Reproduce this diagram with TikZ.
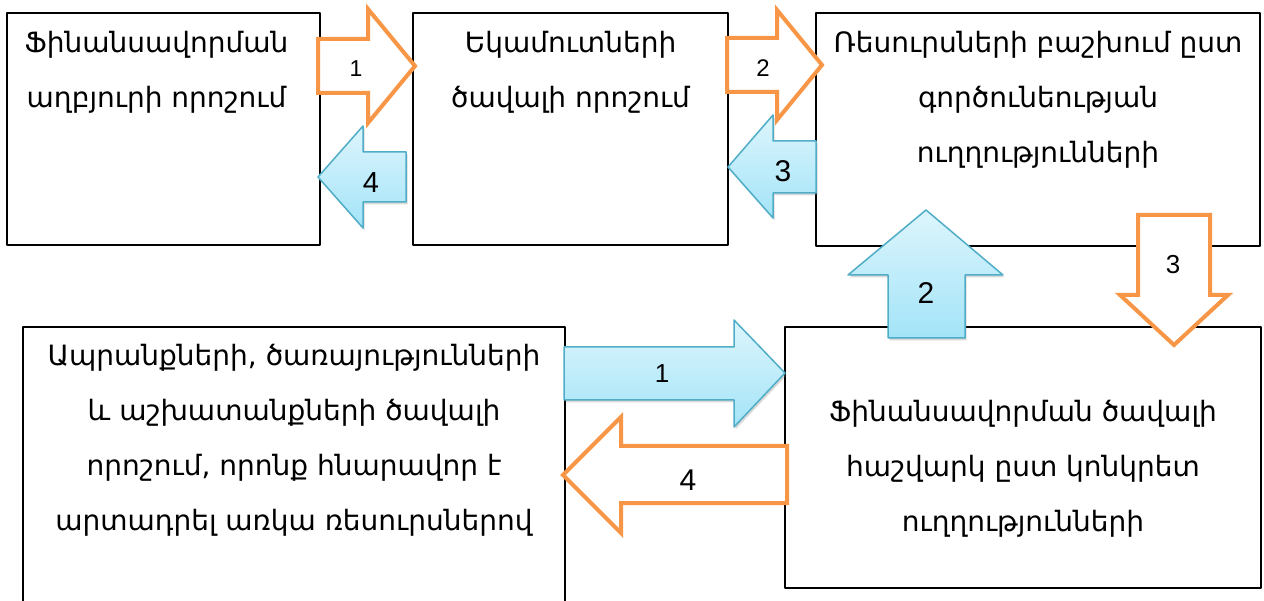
\documentclass[tikz,border=0pt]{standalone}
\usepackage{fontspec}
\setmainfont{Liberation Sans}
\newfontfamily\armfont{DejaVu Sans}
\usetikzlibrary{positioning,shadows}

\definecolor{orline}{HTML}{F79646}
\definecolor{bluline}{HTML}{4FADC7}
\definecolor{blutop}{HTML}{DDF5FC}
\definecolor{blubot}{HTML}{A3E4F8}

\tikzset{
  box/.style={draw=black,line width=1.6pt,fill=white,inner sep=0pt},
  armtxt/.style={align=center,inner sep=0pt,font=\armfont\fontsize{28}{55}\selectfont},
  orarrow/.style={draw=orline,line width=4pt,fill=white,line join=miter},
  bluarrow/.style={draw=bluline,line width=1.5pt,top color=blutop,bottom color=blubot,
    drop shadow={shadow xshift=1.5pt,shadow yshift=-2.5pt,opacity=.3}},
  numlbl/.style={inner sep=0pt}
}

\begin{document}
\begin{tikzpicture}[line cap=round,line join=round,x=1pt,y=-1pt]
  \useasboundingbox (0,0) rectangle (1264,601);
  \clip (0,0) rectangle (1264,601);

  % boxes
  \node[box,minimum width=313pt,minimum height=232pt] (srcbox) at (163.5,129) {};
  \node[box,minimum width=315pt,minimum height=232pt] (incbox) at (570.5,129) {};
  \node[box,minimum width=444pt,minimum height=233pt] (resbox) at (1038,129.5) {};
  \node[box,minimum width=542pt,minimum height=313pt] (prodbox) at (294,483.5) {};
  \node[box,minimum width=476pt,minimum height=261pt] (calcbox) at (1023,457.5) {};

  \node[armtxt,below=19pt of srcbox.north,xshift=-7pt] (srctxt) {Ֆինանսավորման\\աղբյուրի որոշում};
  \node[armtxt,below=19pt of incbox.north] (inctxt) {Եկամուտների\\ծավալի որոշում};
  \node[armtxt,below=19pt of resbox.north] (restxt) {Ռեսուրսների բաշխում ըստ\\գործունեության\\ուղղությունների};
  \node[armtxt,below=18pt of prodbox.north] (prodtxt) {Ապրանքների, ծառայությունների\\և աշխատանքների ծավալի\\որոշում, որոնք հնարավոր է\\արտադրել առկա ռեսուրսներով};
  \node[armtxt,below=74pt of calcbox.north] (calctxt) {Ֆինանսավորման ծավալի\\հաշվարկ ըստ կոնկրետ\\ուղղությունների};

  % orange arrows
  \draw[orarrow] (318,39) -- (368,39) -- (368,9) -- (415,66) -- (368,123) -- (368,93) -- (318,93) -- cycle;
  \draw[orarrow] (727,38) -- (777,38) -- (777,10) -- (822,65) -- (777,120) -- (777,92) -- (727,92) -- cycle;
  \draw[orarrow] (1138,215) -- (1210,215) -- (1210,295) -- (1228,295) -- (1174,345) -- (1120,295) -- (1138,295) -- cycle;
  \draw[orarrow] (787,446) -- (621,446) -- (621,417) -- (563,475) -- (621,533) -- (621,503) -- (787,503) -- cycle;

  % blue arrows
  \draw[bluarrow] (406,152) -- (363,152) -- (363,126) -- (318,177) -- (363,228) -- (363,202) -- (406,202) -- cycle;
  \draw[bluarrow] (816,141) -- (773,141) -- (773,115) -- (728,167) -- (773,218) -- (773,193) -- (816,193) -- cycle;
  \draw[bluarrow] (888,338) -- (888,275) -- (848,275) -- (926,210) -- (1003,275) -- (965,275) -- (965,338) -- cycle;
  \draw[bluarrow] (564,347) -- (734,347) -- (734,320) -- (785,373) -- (734,427) -- (734,400) -- (564,400) -- cycle;

  % numbers
  \node[numlbl,font=\fontsize{23}{23}\selectfont] (o1) at (356,69) {1};
  \node[numlbl,font=\fontsize{24}{24}\selectfont] (o2) at (763,68) {2};
  \node[numlbl,font=\fontsize{26}{26}\selectfont] (o3) at (1173,265) {3};
  \node[numlbl,font=\fontsize{30}{30}\selectfont] (o4) at (688,480) {4};
  \node[numlbl,font=\fontsize{29}{29}\selectfont] (b4) at (371,183) {4};
  \node[numlbl,font=\fontsize{30}{30}\selectfont] (b3) at (783,171) {3};
  \node[numlbl,font=\fontsize{30}{30}\selectfont] (b2) at (926,293) {2};
  \node[numlbl,font=\fontsize{26}{26}\selectfont] (b1) at (662,374) {1};
\end{tikzpicture}
\end{document}
